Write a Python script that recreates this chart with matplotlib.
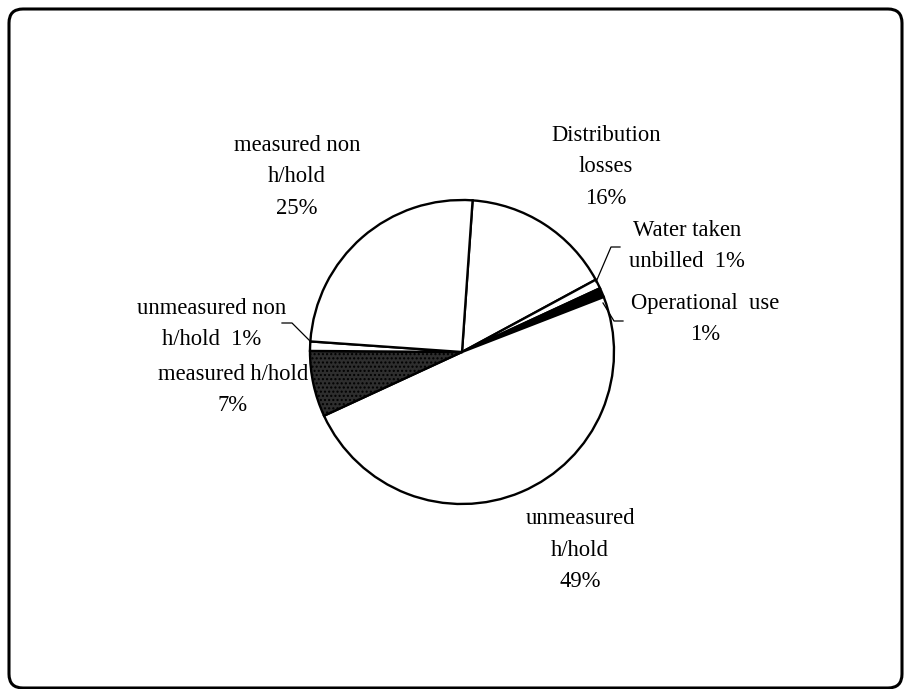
import matplotlib
matplotlib.use("Agg")
from matplotlib import pyplot as plt
from matplotlib.patches import FancyBboxPatch

# water use breakdown (percent)
labels = ["Distribution\nlosses\n16%", "Water taken\nunbilled  1%", "Operational  use\n1%",
          "unmeasured\nh/hold\n49%", "measured h/hold\n7%", "unmeasured non\nh/hold  1%",
          "measured non\nh/hold\n25%"]
shares = [16, 1, 1, 49, 7, 1, 25]
faces = ["white", "white", "black", "white", "#2e2e2e", "white", "white"]

# label positions (image pixels, y down)
label_pos = [(606, 167), (687, 246), (705, 319), (580, 550), (233, 390), (212, 324), (297, 177)]

W, H = 907, 689
plt.rcParams["font.family"] = ["Liberation Serif", "DejaVu Serif"]
fig = plt.figure(figsize=(W / 100, H / 100), dpi=100)
ax = fig.add_axes([0, 0, 1, 1])

cx, cy, r = 462, H - 352, 152
wedges, _ = ax.pie(shares, startangle=86, counterclock=False, center=(cx, cy), radius=r,
                   colors=faces, wedgeprops=dict(edgecolor="black", linewidth=1.7))
wedges[4].set_hatch("....")
ax.set_xlim(0, W)
ax.set_ylim(0, H)
ax.set_aspect("equal")
ax.axis("off")

for txt, (x, y) in zip(labels, label_pos):
    ax.text(x, H - y, txt, ha="center", va="center", fontsize=16.3, linespacing=1.65)

# leader lines for the thin slices
ax.plot([620, 611, 596], [H - 247, H - 247, H - 282], color="black", lw=0.9)
ax.plot([623, 614, 603], [H - 321, H - 321, H - 303], color="black", lw=0.9)
ax.plot([282, 292, 311], [H - 323, H - 323, H - 342], color="black", lw=0.9)

frame = FancyBboxPatch((9, 1), 893, 679, boxstyle="round,pad=0,rounding_size=14",
                       facecolor="none", edgecolor="black", linewidth=2.2)
ax.add_patch(frame)

fig.savefig("out.png", dpi=100, facecolor="white")
